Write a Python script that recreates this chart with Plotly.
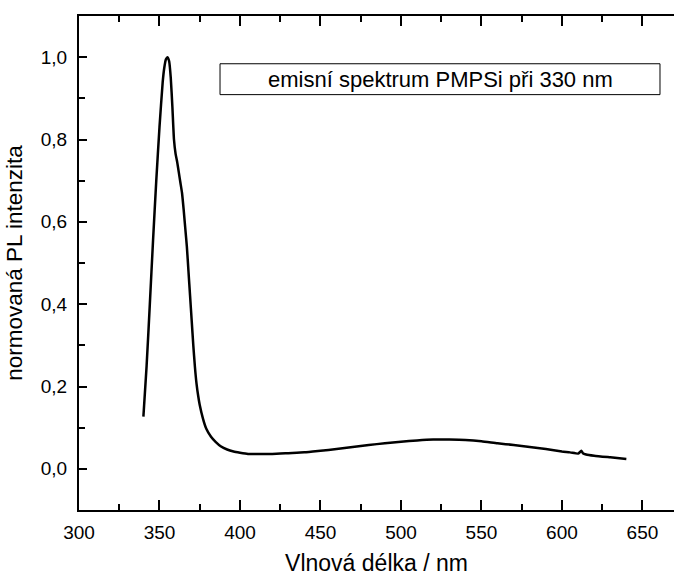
import plotly.graph_objects as go

wavelength = [340, 342, 344, 346, 348, 350, 352, 353, 354, 355, 356, 357, 358, 359,
              360, 361, 362, 363, 364, 365, 366, 367, 368, 369, 370, 371, 372, 373,
              374, 375, 377, 379, 382, 385, 388, 392, 396, 400, 405, 410, 420, 430, 440,
              450, 460, 470, 480, 490, 500, 510, 520, 530, 540, 550, 560, 570, 580,
              590, 600, 605, 610, 611, 612, 613, 615, 620, 630, 640]
intensity = [0.127, 0.25, 0.40, 0.555, 0.70, 0.83, 0.94, 0.975, 0.995, 1.0, 0.99, 0.95,
             0.88, 0.80, 0.765, 0.745, 0.72, 0.695, 0.67, 0.63, 0.585, 0.54, 0.48, 0.42,
             0.36, 0.30, 0.248, 0.207, 0.178, 0.155, 0.122, 0.098, 0.078, 0.065, 0.055,
             0.047, 0.042, 0.039, 0.036, 0.036, 0.036, 0.038, 0.040, 0.044, 0.048, 0.053,
             0.058, 0.062, 0.066, 0.069, 0.071, 0.071, 0.070, 0.067, 0.062, 0.058,
             0.053, 0.048, 0.042, 0.040, 0.037, 0.040, 0.044, 0.038, 0.035, 0.032,
             0.028, 0.024]

legend_text = "emisní spektrum PMPSi při 330 nm"
x_title = "Vlnová délka / nm"
y_title = "normovaná PL intenzita"

font_family = "Liberation Sans, Arial, sans-serif"

fig = go.Figure()
fig.add_trace(go.Scatter(x=wavelength, y=intensity, mode="lines",
                         line=dict(color="black", width=2.5, shape="spline", smoothing=0.5),
                         showlegend=False, hoverinfo="skip"))

fig.update_layout(
    width=674, height=576,
    margin=dict(l=79, r=0, t=16, b=66),
    paper_bgcolor="white", plot_bgcolor="white",
    separators=", ",
    font=dict(family=font_family, color="black", size=18),
    xaxis=dict(range=[300, 669.6], tick0=300, dtick=50, ticks="inside", ticklen=10,
               tickwidth=2, tickcolor="black", showline=True, linewidth=2,
               linecolor="black", mirror="ticks", showgrid=False, zeroline=False,
               tickfont=dict(size=19), ticklabelstandoff=4,
               minor=dict(dtick=25, ticks="inside", ticklen=6, tickwidth=2,
                          tickcolor="black", showgrid=False),
               title=dict(text=x_title, font=dict(size=23), standoff=16)),
    yaxis=dict(range=[-0.1, 1.1], tick0=0, dtick=0.2, tickformat=".1f",
               ticks="inside", ticklen=8, tickwidth=2, tickcolor="black",
               showline=True, linewidth=2, linecolor="black", mirror=False,
               showgrid=False, zeroline=False, tickfont=dict(size=19),
               ticklabelstandoff=6,
               minor=dict(dtick=0.1, ticks="inside", ticklen=6, tickwidth=2,
                          tickcolor="black", showgrid=False),
               title=dict(text=y_title, font=dict(size=22.5), standoff=12)),
)

fig.add_shape(type="rect", xref="x", yref="y", x0=387.6, x1=660.9, y0=0.909, y1=0.984,
              line=dict(color="black", width=1), fillcolor="white")
fig.add_annotation(xref="x", yref="y", x=(387.6 + 660.9) / 2, y=(0.909 + 0.984) / 2,
                   text=legend_text, showarrow=False, font=dict(size=22),
                   xanchor="center", yanchor="middle")

fig.write_html("out.html")
